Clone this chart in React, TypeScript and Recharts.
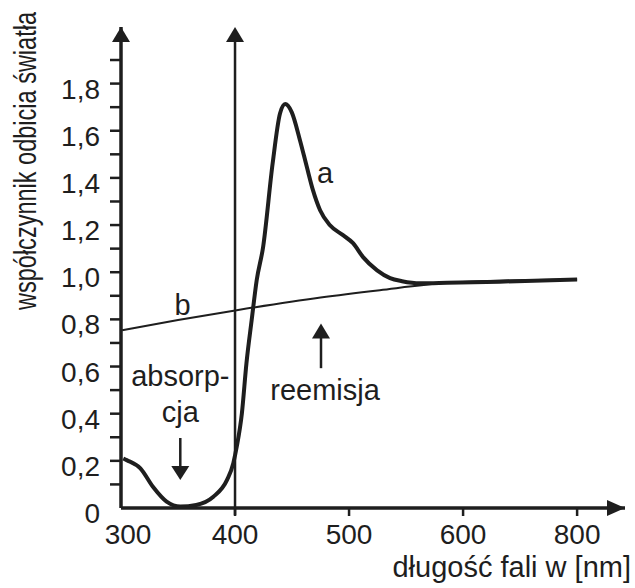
import React from 'react';
import {
  LineChart,
  Line,
  XAxis,
  YAxis,
  Label,
  ReferenceLine,
  ReferenceDot,
} from 'recharts';

// krzywa a (gruba) i b (cienka)
const aNm = [302, 305, 317, 328, 340, 352, 366, 381, 393, 398.5, 401.5, 406, 410, 414.6, 419, 424.6, 433, 439.5, 444, 449.7, 457, 463, 468.4, 474.6, 483.3, 494.7, 503.5, 512.3, 524.6, 536, 546.5, 562.3, 586, 632, 700];
const aVal = [0.21, 0.203, 0.168, 0.09, 0.027, 0.006, 0.013, 0.048, 0.119, 0.19, 0.26, 0.401, 0.613, 0.797, 0.966, 1.106, 1.462, 1.674, 1.713, 1.679, 1.559, 1.446, 1.347, 1.263, 1.199, 1.157, 1.123, 1.064, 1.008, 0.975, 0.962, 0.953, 0.955, 0.96, 0.969];

const bNm = [301, 350, 401.5, 475, 527, 586, 640, 700];
const bVal = [0.754, 0.797, 0.839, 0.893, 0.924, 0.955, 0.965, 0.969];

const xTicks = [300, 400, 500, 600, 700];
const xTickLabels = ['300', '400', '500', '600', '800'];

const yTicks = [0, 0.1, 0.2, 0.3, 0.4, 0.5, 0.6, 0.7, 0.8, 0.9, 1.0, 1.1, 1.2, 1.3, 1.4, 1.5, 1.6, 1.7, 1.8, 1.9];
const yTickLabels = ['0', '', '0,2', '', '0,4', '', '0,6', '', '0,8', '', '1,0', '', '1,2', '', '1,4', '', '1,6', '', '1,8', ''];

const notes = [
  { nm: 479, v: 1.377, text: 'a' },
  { nm: 354, v: 0.818, text: 'b' },
  { nm: 352, v: 0.517, text: 'absorp-' },
  { nm: 352, v: 0.366, text: 'cja' },
  { nm: 479, v: 0.46, text: 'reemisja' },
];

const aData = aNm.map((nm, i) => ({ nm, v: aVal[i] }));
const bData = bNm.map((nm, i) => ({ nm, v: bVal[i] }));

const INK = '#1e1e1e';
const FONT = '"Liberation Sans", Arial, sans-serif';

const YTick = (props: any) => {
  const { x, y, payload } = props;
  const label = yTickLabels[yTicks.indexOf(payload.value)];
  return (
    <g>
      {payload.value !== 0 && <line x1={x - 11} x2={x} y1={y} y2={y} stroke={INK} strokeWidth={2.5} />}
      {label && (
        <text x={x - 21} y={y + 15} textAnchor="end" fontSize={28} fontFamily={FONT} fill={INK}>
          {label}
        </text>
      )}
    </g>
  );
};

const XTick = (props: any) => {
  const { x, y, payload } = props;
  const i = xTicks.indexOf(payload.value);
  return (
    <g>
      {i > 0 && <line x1={x} x2={x} y1={y} y2={y + 8} stroke={INK} strokeWidth={2.5} />}
      <text x={i === 0 ? x + 7 : x} y={y + 36} textAnchor="middle" fontSize={28} fontFamily={FONT} fill={INK}>
        {xTickLabels[i]}
      </text>
    </g>
  );
};

const arrowUp = ({ cx, cy }: any) => (
  <polygon points={`${cx},${cy} ${cx - 9},${cy + 15} ${cx + 9},${cy + 15}`} fill={INK} />
);
const arrowDown = ({ cx, cy }: any) => (
  <polygon points={`${cx},${cy} ${cx - 9},${cy - 14} ${cx + 9},${cy - 14}`} fill={INK} />
);
const arrowRight = ({ cx, cy }: any) => (
  <polygon points={`${cx},${cy} ${cx - 18},${cy - 8} ${cx - 18},${cy + 8}`} fill={INK} />
);

const noteShape = (text: string) => ({ cx, cy }: any) => (
  <text x={cx} y={cy} textAnchor="middle" fontSize={29} fontFamily={FONT} fill={INK}>
    {text}
  </text>
);

const App = () => {
  return (
    <div style={{ position: 'absolute', left: 0, top: 0, width: 635, height: 588, background: '#fff' }}>
      <LineChart width={635} height={588} margin={{ top: 27, right: 10, bottom: 50, left: 0 }}>
        <XAxis
          type="number"
          dataKey="nm"
          domain={[300, 742]}
          ticks={xTicks}
          interval={0}
          height={30}
          tickSize={0}
          tickMargin={0}
          tickLine={false}
          tick={<XTick />}
          axisLine={{ stroke: INK, strokeWidth: 3.5 }}
          allowDataOverflow
        >
          <Label
            content={() => (
              <text x={631} y={577} textAnchor="end" fontSize={29} fontFamily={FONT} fill={INK}>
                długość fali w [nm]
              </text>
            )}
          />
        </XAxis>
        <YAxis
          type="number"
          domain={[0, 2.04]}
          ticks={yTicks}
          interval={0}
          width={121}
          tickSize={0}
          tickMargin={0}
          tickLine={false}
          tick={<YTick />}
          axisLine={{ stroke: INK, strokeWidth: 3.5 }}
          allowDataOverflow
        >
          <Label
            content={() => (
              // tytuł osi w zwężonym kroju: skalowanie zamiast textLength
              <text
                transform="translate(36,310) rotate(-90) scale(0.735,1)"
                textAnchor="start"
                fontSize={32}
                fontFamily={FONT}
                fill={INK}
              >
                współczynnik odbicia światła
              </text>
            )}
          />
        </YAxis>

        <ReferenceLine
          segment={[{ x: 400, y: -0.03 }, { x: 400, y: 2.0 }]}
          stroke={INK}
          strokeWidth={2.5}
          ifOverflow="visible"
        />
        <ReferenceDot x={300} y={2.04} shape={arrowUp} ifOverflow="visible" />
        <ReferenceDot x={400} y={2.04} shape={arrowUp} ifOverflow="visible" />
        <ReferenceDot x={742} y={0} shape={arrowRight} ifOverflow="visible" />

        <Line
          data={bData}
          dataKey="v"
          type="monotone"
          stroke={INK}
          strokeWidth={2}
          dot={false}
          activeDot={false}
          isAnimationActive={false}
        />
        <Line
          data={aData}
          dataKey="v"
          type="monotone"
          stroke={INK}
          strokeWidth={4}
          dot={false}
          activeDot={false}
          isAnimationActive={false}
        />

        {/* strzałki: absorpcja i reemisja */}
        <ReferenceLine segment={[{ x: 352, y: 0.297 }, { x: 352, y: 0.14 }]} stroke={INK} strokeWidth={2.5} />
        <ReferenceDot x={352} y={0.119} shape={arrowDown} ifOverflow="visible" />
        <ReferenceLine segment={[{ x: 475.4, y: 0.593 }, { x: 475.4, y: 0.76 }]} stroke={INK} strokeWidth={2.5} />
        <ReferenceDot x={475.4} y={0.783} shape={arrowUp} ifOverflow="visible" />

        {notes.map((n) => (
          <ReferenceDot key={n.text} x={n.nm} y={n.v} shape={noteShape(n.text)} ifOverflow="visible" />
        ))}
      </LineChart>
    </div>
  );
};

export default App;
